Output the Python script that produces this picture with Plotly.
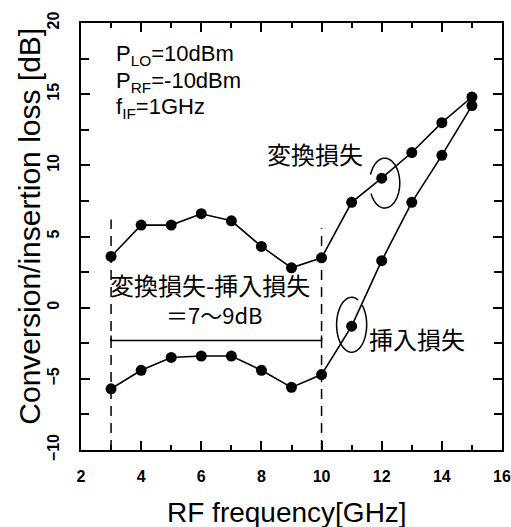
import numpy as np
import plotly.graph_objects as go

# ---- data ----
freq_ghz = [3, 4, 5, 6, 7, 8, 9, 10, 11, 12, 13, 14, 15]
conversion_loss_db = [3.6, 5.8, 5.8, 6.6, 6.1, 4.3, 2.8, 3.5, 7.4, 9.1, 10.9, 13.0, 14.8]
insertion_loss_db = [-5.7, -4.4, -3.5, -3.4, -3.4, -4.4, -5.6, -4.7, -1.3, 3.3, 7.4, 10.7, 14.2]

x_tick_vals = [2, 4, 6, 8, 10, 12, 14, 16]
x_minor_vals = [3, 5, 7, 9, 11, 13, 15]
y_tick_vals = [-10, -5, 0, 5, 10, 15, 20]
y_minor_vals = [-7.5, -2.5, 2.5, 7.5, 12.5, 17.5]

LATIN = "Liberation Sans, Arial, sans-serif"
CJK = "Noto Sans CJK JP, sans-serif"


def arc_path(cx, cy, rx, ry, a0, a1, n=80):
    t = np.radians(np.linspace(a0, a1, n))
    xs = cx + rx * np.cos(t)
    ys = cy + ry * np.sin(t)
    return "M " + " L ".join(f"{x:.4f},{y:.4f}" for x, y in zip(xs, ys))


fig = go.Figure()
for ys in (conversion_loss_db, insertion_loss_db):
    fig.add_trace(go.Scatter(
        x=freq_ghz, y=ys, mode="lines+markers",
        line=dict(color="black", width=1.6),
        marker=dict(color="black", size=11),
        showlegend=False, hoverinfo="skip",
    ))

shapes = [
    dict(type="line", x0=3, x1=3, y0=-10, y1=6.2, xref="x", yref="y",
         line=dict(color="black", width=1.5, dash="10px,7px")),
    dict(type="line", x0=10, x1=10, y0=-10, y1=5.6, xref="x", yref="y",
         line=dict(color="black", width=1.5, dash="10px,7px")),
    dict(type="path", path="M 3,-1.95 L 3,-2.3 L 10,-2.3 L 10,-1.95",
         xref="x", yref="y", line=dict(color="black", width=1.5)),
    dict(type="path", path=arc_path(12.1, 8.75, 0.5, 1.75, -155, 160),
         xref="x", yref="y", line=dict(color="black", width=1.5)),
    dict(type="path", path=arc_path(11.0, -1.2, 0.5, 1.93, 65, 405),
         xref="x", yref="y", line=dict(color="black", width=1.5)),
]

cjk_font = dict(family=CJK, size=24, color="black")
par_font = dict(family=LATIN, size=22, color="black")
annotations = [
    dict(x=3.1, y=17.75, xref="x", yref="y", xanchor="left", yanchor="middle",
         text="P<sub>LO</sub>=10dBm", showarrow=False, font=par_font),
    dict(x=3.1, y=15.85, xref="x", yref="y", xanchor="left", yanchor="middle",
         text="P<sub>RF</sub>=-10dBm", showarrow=False, font=par_font),
    dict(x=3.1, y=14.0, xref="x", yref="y", xanchor="left", yanchor="middle",
         text="f<sub>IF</sub>=1GHz", showarrow=False, font=par_font),
    dict(x=9.77, y=10.58, xref="x", yref="y", yshift=4, text="変換損失", showarrow=False,
         font=cjk_font),
    dict(x=13.17, y=-2.35, xref="x", yref="y", yshift=3, text="挿入損失", showarrow=False,
         font=cjk_font),
    dict(x=6.3, y=1.3, xref="x", yref="y", yshift=5, text="変換損失-挿入損失", showarrow=False,
         font=cjk_font),
    dict(x=6.43, y=-0.73, xref="x", yref="y", yshift=4, text="＝7～9dB", showarrow=False,
         font=dict(family=CJK, size=22, color="black")),
    dict(x=0.49, y=0, xref="paper", yref="paper", yanchor="middle", yshift=-62,
         text="RF frequency[GHz]", showarrow=False,
         font=dict(family=LATIN, size=28, color="black")),
    dict(x=0, y=0.523, xref="paper", yref="paper", xanchor="center", xshift=-51,
         text="Conversion/insertion loss [dB]", textangle=-90, showarrow=False,
         font=dict(family=LATIN, size=30, color="black")),
]

axis_common = dict(
    showgrid=False, zeroline=False, showline=True, linecolor="black", linewidth=2,
    mirror="allticks", ticks="inside", tickcolor="black", tickwidth=1.5,
    ticklabeloverflow="allow", automargin=False,
)

fig.update_layout(
    width=511, height=527,
    margin=dict(l=81, r=9, t=23, b=77),
    paper_bgcolor="white", plot_bgcolor="white",
    shapes=shapes, annotations=annotations,
    xaxis=dict(range=[2, 16], tickmode="array", tickvals=x_tick_vals, ticklen=9,
               minor=dict(tickmode="array", tickvals=x_minor_vals, ticks="inside",
                          ticklen=5, tickcolor="black", tickwidth=1.5),
               tickfont=dict(family=LATIN, size=16, color="black", weight="bold"),
               ticklabelstandoff=11, **axis_common),
    yaxis=dict(range=[-10, 20], tickmode="array", tickvals=y_tick_vals, ticklen=9,
               minor=dict(tickmode="array", tickvals=y_minor_vals, ticks="inside",
                          ticklen=8, tickcolor="black", tickwidth=1.5),
               tickangle=-90,
               tickfont=dict(family=LATIN, size=16, color="black", weight="bold"),
               ticklabelstandoff=14, **axis_common),
)

fig.write_html("out.html", config={"displayModeBar": False},
               post_script="document.body.style.margin='0';")
